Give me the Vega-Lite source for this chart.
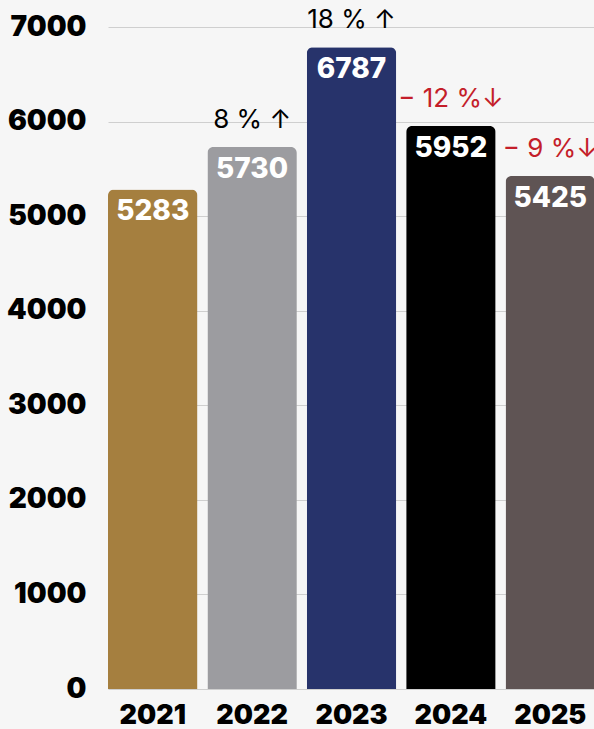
{
  "$schema": "https://vega.github.io/schema/vega-lite/v6.json",
  "autosize": "none",
  "width": 487,
  "height": 662,
  "padding": {"left": 108, "top": 27, "right": 0, "bottom": 40},
  "background": "#f6f6f6",
  "config": {"view": {"stroke": null}, "font": "Inter"},
  "data": {"values": [
    {"year": "2021", "value": 5283, "change": "", "dir": "none"},
    {"year": "2022", "value": 5730, "change": "8 % ↑", "dir": "up"},
    {"year": "2023", "value": 6787, "change": "18 % ↑", "dir": "up"},
    {"year": "2024", "value": 5952, "change": "− 12 %↓", "dir": "down"},
    {"year": "2025", "value": 5425, "change": "− 9 %↓", "dir": "down"}
  ]},
  "encoding": {
    "x": {"field": "year", "type": "nominal", "sort": null,
      "scale": {"paddingInner": 0.1, "paddingOuter": 0},
      "axis": {"title": null, "domain": false, "ticks": false, "labelAngle": 0,
        "labelFontSize": 27, "labelFontWeight": 900, "labelColor": "#000000", "labelPadding": 13, "labelFont": "Inter"}},
    "y": {"field": "value", "type": "quantitative",
      "scale": {"domain": [0, 7000]},
      "axis": {"title": null, "domain": false, "ticks": false, "values": [0,1000,2000,3000,4000,5000,6000,7000], "format": "d",
        "labelFontSize": 28, "labelFontWeight": 900, "labelColor": "#000000", "labelPadding": 22,
        "gridColor": "#cfcfcf", "gridWidth": 1.2, "labelFont": "Inter"}}
  },
  "layer": [
    {"mark": {"type": "bar", "cornerRadiusTopLeft": 6, "cornerRadiusTopRight": 6},
     "encoding": {"color": {"field": "year", "type": "nominal", "legend": null,
       "scale": {"domain": ["2021","2022","2023","2024","2025"], "range": ["#a57f3f","#9c9ca0","#27336b","#000000","#5f5454"]}}}},
    {"mark": {"type": "text", "baseline": "middle", "dy": 23, "fontSize": 28, "fontWeight": 800, "color": "#ffffff"},
     "encoding": {"text": {"field": "value", "type": "quantitative", "format": "d"}}},
    {"mark": {"type": "text", "baseline": "middle", "dy": -27, "fontSize": 26, "fontWeight": 400},
     "encoding": {"text": {"field": "change"},
       "color": {"field": "dir", "type": "nominal", "legend": null,
         "scale": {"domain": ["none","up","down"], "range": ["#000000","#000000","#c41e2a"]}}}}
  ],
  "resolve": {"scale": {"color": "independent"}}
}
